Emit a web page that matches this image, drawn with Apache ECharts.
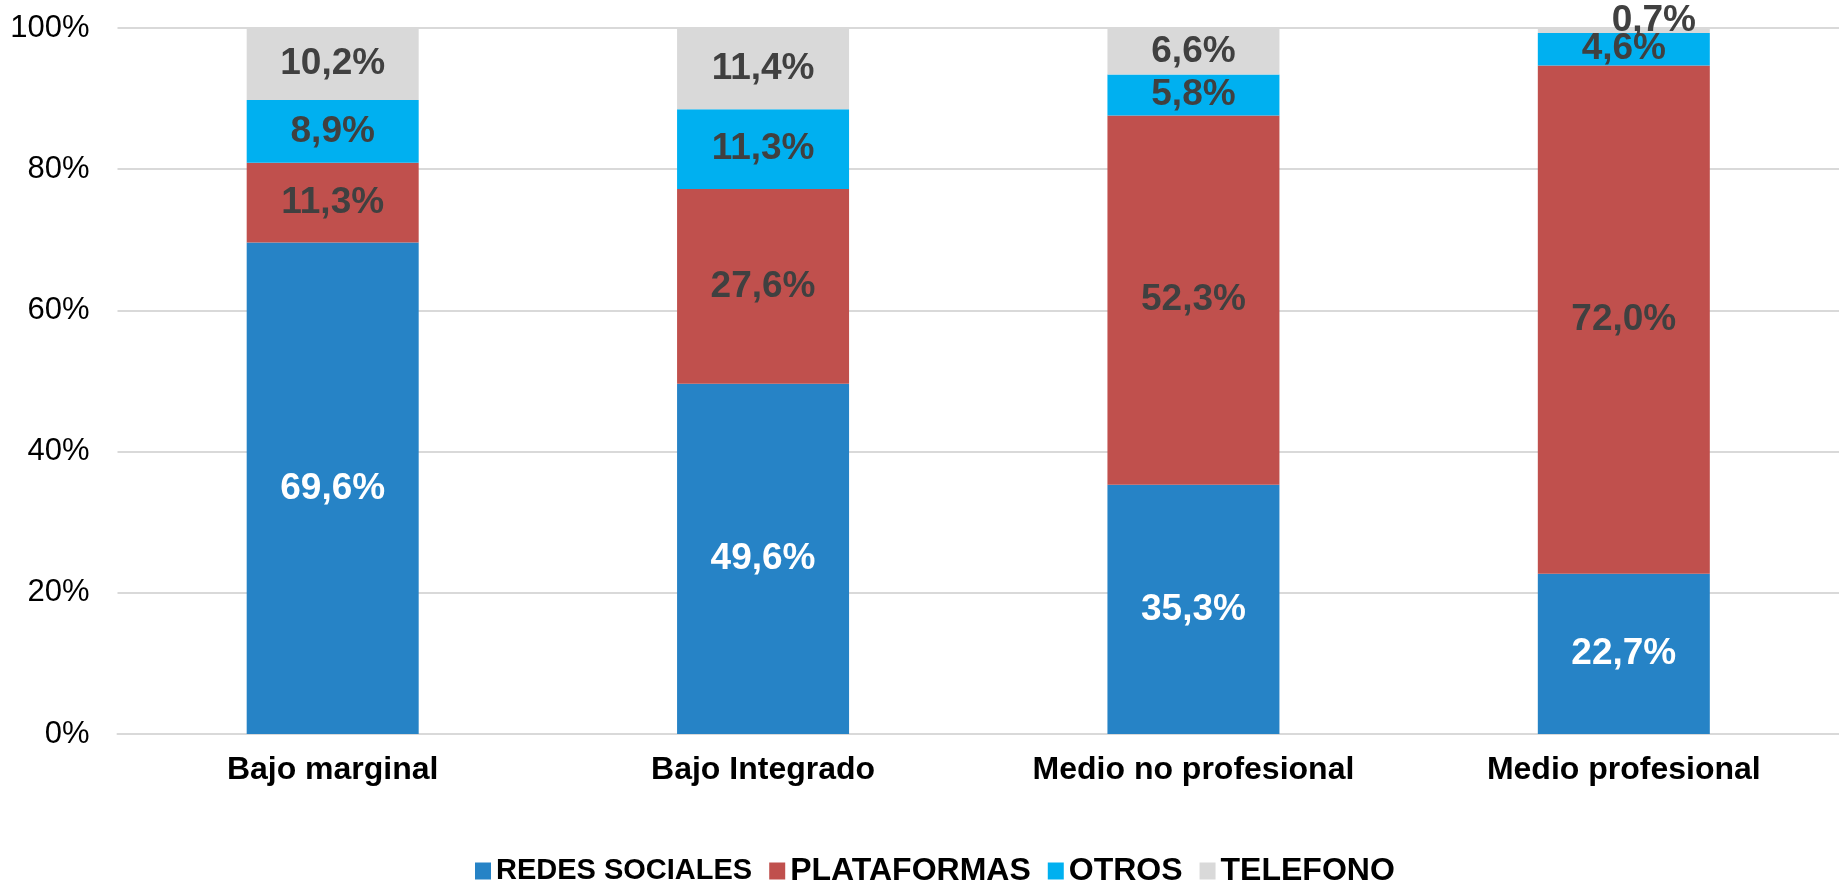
<!DOCTYPE html>
<html>
<head>
<meta charset="utf-8">
<style>
  html, body { margin: 0; padding: 0; background: #ffffff; }
  #chart { width: 1839px; height: 880px; }
</style>
<script src="https://cdn.jsdelivr.net/npm/echarts@6/dist/echarts.min.js"></script>
</head>
<body>
<div id="chart"></div>
<script>
const categories = ['Bajo marginal', 'Bajo Integrado', 'Medio no profesional', 'Medio profesional'];
const seriesNames = ['REDES SOCIALES', 'PLATAFORMAS', 'OTROS', 'TELEFONO'];
const redesSociales = [69.6, 49.6, 35.3, 22.7];
const plataformas = [11.3, 27.6, 52.3, 72.0];
const otros = [8.9, 11.3, 5.8, 4.6];
const telefono = [10.2, 11.4, 6.6, 0.7];
const yTicks = [0, 20, 40, 60, 80, 100];

const colors = ['#2683C6', '#C0504D', '#00B0F0', '#D9D9D9'];
const labelColors = ['#FFFFFF', '#404040', '#404040', '#404040'];
const allValues = [redesSociales, plataformas, otros, telefono];
const FONT = '"Liberation Sans", Arial, sans-serif';

const series = allValues.map((vals, si) => ({
  name: seriesNames[si],
  type: 'bar',
  stack: 'total',
  barWidth: 172,
  itemStyle: { color: colors[si] },
  label: {
    show: true,
    position: 'inside',
    color: labelColors[si],
    fontFamily: FONT,
    fontWeight: 'bold',
    fontSize: 37,
    formatter: p => p.value.toFixed(1).replace('.', ',') + '%'
  },
  data: vals.map(v => (v < 2 ? { value: v, label: { offset: [30, -10] } } : v))
}));

const chart = echarts.init(document.getElementById('chart'));
chart.setOption({
  animation: false,
  backgroundColor: '#ffffff',
  textStyle: { fontFamily: FONT },
  grid: { left: 117.5, right: -10.5, top: 28, bottom: 146, containLabel: false },
  legend: {
    data: seriesNames,
    top: 850,
    left: 470,
    icon: 'rect',
    itemWidth: 16,
    itemHeight: 17,
    itemGap: 17,
    formatter: name => (name === seriesNames[0] ? '{s|' + name + '}' : '{b|' + name + '}'),
    textStyle: {
      fontFamily: FONT, fontWeight: 'bold', color: '#000000',
      rich: {
        s: { fontFamily: FONT, fontWeight: 'bold', fontSize: 29, color: '#000000', lineHeight: 34 },
        b: { fontFamily: FONT, fontWeight: 'bold', fontSize: 32, color: '#000000', lineHeight: 34 }
      }
    }
  },
  xAxis: {
    type: 'category',
    data: categories,
    axisLine: { lineStyle: { color: '#D9D9D9', width: 2 } },
    axisTick: { show: false },
    axisLabel: { color: '#000000', fontFamily: FONT, fontWeight: 'bold', fontSize: 32, margin: 20 }
  },
  yAxis: {
    type: 'value',
    min: yTicks[0],
    max: yTicks[yTicks.length - 1],
    interval: yTicks[1] - yTicks[0],
    axisLine: { show: false },
    axisTick: { show: false },
    splitLine: { lineStyle: { color: '#D9D9D9', width: 2 } },
    axisLabel: { color: '#000000', fontFamily: FONT, fontSize: 31, margin: 28, formatter: '{value}%' }
  },
  series: series
});
</script>
</body>
</html>
